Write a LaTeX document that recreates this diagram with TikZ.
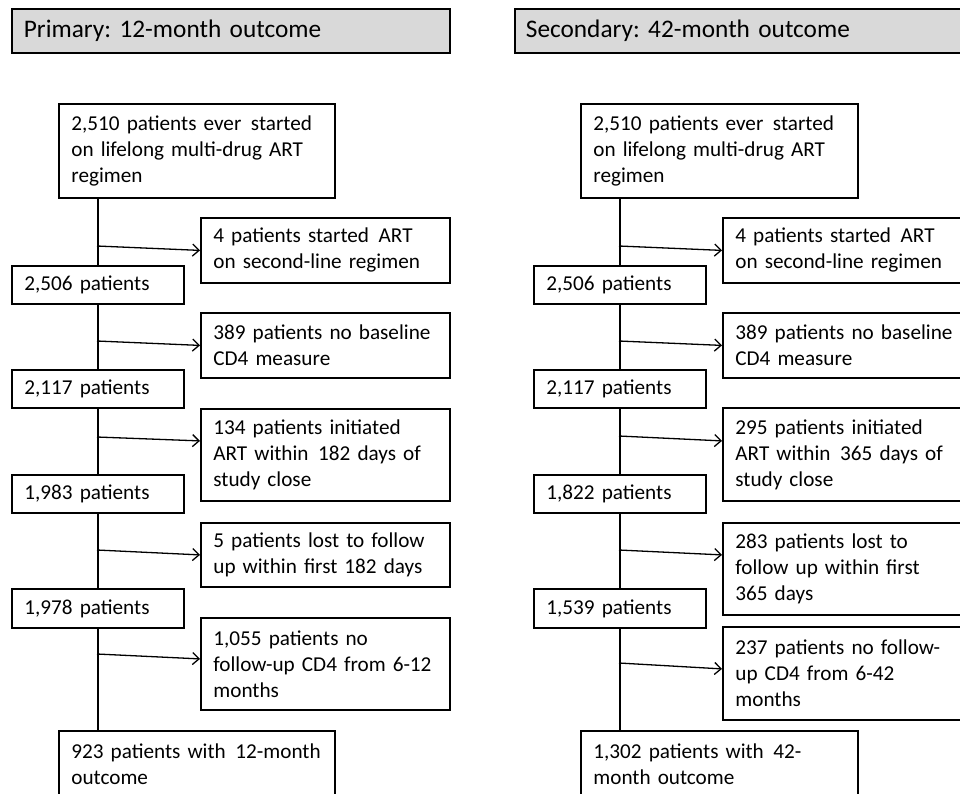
\documentclass[tikz,border=0pt]{standalone}
\usepackage{fontspec}
\setmainfont{Carlito}
\usetikzlibrary{arrows.meta}
\definecolor{hdrgray}{RGB}{217,217,217}
\frenchspacing
\newcommand\dsp{\ \hspace{0.12em}}
\begin{document}
\begin{tikzpicture}[x=1pt,y=1pt,
  box/.style={draw=black, line width=1.8pt, anchor=north west, inner ysep=0pt, inner xsep=12.5pt, align=left, font=\fontsize{21.2}{26}\selectfont},
  hdr/.style={draw=black, fill=hdrgray, line width=1.8pt, anchor=north west, inner ysep=0pt, align=left, font=\fontsize{25.3}{30}\selectfont},
  trunk/.style={line width=1.8pt},
  arr/.style={line width=1.3pt, -{Straight Barb[length=6.5pt,width=12pt]}}]
\useasboundingbox (0,0) rectangle (960,-793);
\clip (0,0) rectangle (960,-793);
% ---------------- Left panel ----------------
\node[hdr, inner xsep=12pt, text width=414pt, minimum height=44pt] (HL) at (11,-8) {\mbox{Primary: 12-month outcome}};
\node[box, text width=251pt, minimum height=94pt] (A1) at (58,-103) {\mbox{2,510 patients ever\dsp started}\\\mbox{on lifelong multi-drug ART}\\\mbox{regimen}};
\node[box, text width=224pt, minimum height=65pt] (B1) at (200,-217) {\mbox{4 patients started\dsp ART}\\\mbox{on second-line regimen}};
\node[box, text width=147pt, minimum height=38pt] (C1) at (11,-265) {\mbox{2,506 patients}};
\node[box, text width=224pt, minimum height=65pt] (D1) at (200,-312) {\mbox{389 patients no baseline}\\\mbox{CD4 measure}};
\node[box, text width=147pt, minimum height=38pt] (E1) at (11,-369) {\mbox{2,117 patients}};
\node[box, text width=224pt, minimum height=92pt] (F1) at (200,-408) {\mbox{134 patients initiated}\\\mbox{ART within\dsp 182 days of}\\\mbox{study close}};
\node[box, text width=147pt, minimum height=38pt] (G1) at (11,-474) {\mbox{1,983 patients}};
\node[box, text width=224pt, minimum height=64pt] (L1) at (200,-522) {\mbox{5 patients lost to follow}\\\mbox{up within first 182 days}};
\node[box, text width=147pt, minimum height=39pt] (I1) at (11,-588) {\mbox{1,978 patients}};
\node[box, text width=224pt, minimum height=92pt] (J1) at (200,-617) {\mbox{1,055 patients no}\\\mbox{follow-up CD4 from 6-12}\\\mbox{months}};
\node[box, text width=251pt, minimum height=66pt] (K1) at (58,-730) {\mbox{923 patients with\dsp 12-month}\\\mbox{outcome}};
\draw[trunk] (C1.north |- A1.south) -- (C1.north);
\draw[trunk] (C1.south) -- (E1.north);
\draw[trunk] (E1.south) -- (G1.north);
\draw[trunk] (G1.south) -- (I1.north);
\draw[trunk] (I1.south) -- (I1.south |- K1.north);
\coordinate (p11) at (97,-246);
\coordinate (p12) at (97,-341);
\coordinate (p13) at (97,-437);
\coordinate (p14) at (97,-550);
\coordinate (p15) at (97,-654);
\draw[arr] (p11) -- (B1.west);
\draw[arr] (p12) -- (D1.west);
\draw[arr] (p13) -- ([yshift=14pt]F1.west);
\draw[arr] (p14) -- (L1.west);
\draw[arr] (p15) -- ([yshift=5pt]J1.west);
% ---------------- Right panel ----------------
\node[hdr, inner xsep=11pt, text width=440pt, minimum height=44pt] (HR) at (514,-8) {\mbox{Secondary: 42-month outcome}};
\node[box, text width=252pt, minimum height=94pt] (A2) at (580,-103) {\mbox{2,510 patients ever\dsp started}\\\mbox{on lifelong multi-drug ART}\\\mbox{regimen}};
\node[box, text width=224pt, minimum height=65pt] (B2) at (722,-217) {\mbox{4 patients started\dsp ART}\\\mbox{on second-line regimen}};
\node[box, text width=147pt, minimum height=38pt] (C2) at (533,-265) {\mbox{2,506 patients}};
\node[box, text width=224pt, minimum height=65pt] (D2) at (722,-312) {\mbox{389 patients no baseline}\\\mbox{CD4 measure}};
\node[box, text width=147pt, minimum height=38pt] (E2) at (533,-369) {\mbox{2,117 patients}};
\node[box, text width=224pt, minimum height=93pt] (F2) at (722,-407) {\mbox{295 patients initiated}\\\mbox{ART within\dsp 365 days of}\\\mbox{study close}};
\node[box, text width=147pt, minimum height=38pt] (G2) at (533,-474) {\mbox{1,822 patients}};
\node[box, text width=224pt, minimum height=92pt] (L2) at (722,-522) {\mbox{283 patients lost to}\\\mbox{follow up within first}\\\mbox{365 days}};
\node[box, text width=147pt, minimum height=39pt] (I2) at (533,-588) {\mbox{1,539 patients}};
\node[box, text width=224pt, minimum height=93pt] (J2) at (722,-626) {\mbox{237 patients no follow-}\\\mbox{up CD4 from 6-42}\\\mbox{months}};
\node[box, text width=252pt, minimum height=66pt] (K2) at (580,-730) {\mbox{1,302 patients with\dsp 42-}\\\mbox{month outcome}};
\draw[trunk] (C2.north |- A2.south) -- (C2.north);
\draw[trunk] (C2.south) -- (E2.north);
\draw[trunk] (E2.south) -- (G2.north);
\draw[trunk] (G2.south) -- (I2.north);
\draw[trunk] (I2.south) -- (I2.south |- K2.north);
\coordinate (p21) at (619,-246);
\coordinate (p22) at (619,-341);
\coordinate (p23) at (619,-436);
\coordinate (p24) at (619,-550);
\coordinate (p25) at (619,-663);
\draw[arr] (p21) -- (B2.west);
\draw[arr] (p22) -- (D2.west);
\draw[arr] (p23) -- ([yshift=13.5pt]F2.west);
\draw[arr] (p24) -- ([yshift=14pt]L2.west);
\draw[arr] (p25) -- ([yshift=4.5pt]J2.west);
\end{tikzpicture}
\end{document}
